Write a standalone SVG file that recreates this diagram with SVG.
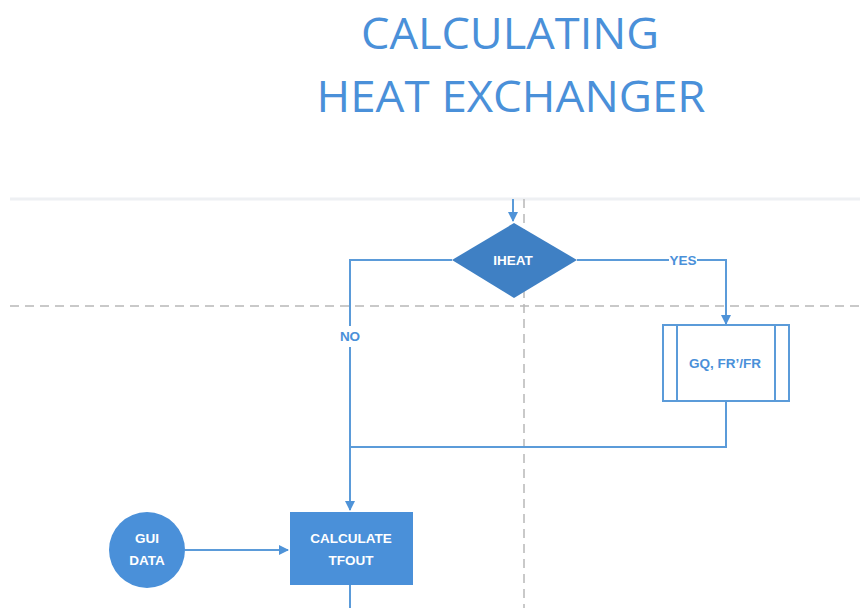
<svg xmlns="http://www.w3.org/2000/svg" width="860" height="608" viewBox="0 0 860 608">
<defs>
<marker id="ah" viewBox="0 0 10 10" refX="9" refY="5" markerWidth="10" markerHeight="10" markerUnits="userSpaceOnUse" orient="auto">
<path d="M0,0 L10,5 L0,10 z" fill="#4f93d8"/>
</marker>
<style>
.title{font-family:"Open Sans","Liberation Sans",sans-serif;font-size:44px;fill:#4a90d9;text-anchor:middle}
.conn{fill:none;stroke:#5b9bd9;stroke-width:2}
.guide{fill:none;stroke:#b8b8b8;stroke-width:1.5;stroke-dasharray:9 6}
.lbl{font-family:"Liberation Sans",Arial,sans-serif;font-size:13.5px;font-weight:bold;text-anchor:middle}
.w{fill:#ffffff}
.b{fill:#4a90d9}
</style>
</defs>
<rect width="860" height="608" fill="#ffffff"/>
<text class="title" x="510" y="49" textLength="298" lengthAdjust="spacingAndGlyphs">CALCULATING</text>
<text class="title" x="511" y="112" textLength="389" lengthAdjust="spacingAndGlyphs">HEAT EXCHANGER</text>
<g id="guides">
<line x1="10" y1="199" x2="860" y2="199" stroke="#eef0f3" stroke-width="3"/>
<line class="guide" x1="524" y1="199" x2="524" y2="608"/>
<line class="guide" x1="10" y1="306" x2="860" y2="306"/>
</g>
<g id="connectors">
<path class="conn" d="M513,199 V221" marker-end="url(#ah)"/>
<path class="conn" d="M452,260 H350 V326"/>
<path class="conn" d="M350,347 V510" marker-end="url(#ah)"/>
<path class="conn" d="M577,260 H669"/>
<path class="conn" d="M697,260 H726 V324" marker-end="url(#ah)"/>
<path class="conn" d="M726,401 V447 H350"/>
<path class="conn" d="M185,550 H288" marker-end="url(#ah)"/>
<path class="conn" d="M350,585 V608"/>
<text class="lbl b" x="350" y="341">NO</text>
<text class="lbl b" x="683" y="265">YES</text>
</g>
<g id="iheat">
<polygon points="514,223 577,260 514,298 452,260" fill="#3f80c4"/>
<text class="lbl w" x="513" y="265">IHEAT</text>
</g>
<g id="gq">
<rect x="663" y="325" width="126" height="76" fill="#ffffff" stroke="#5b9bd9" stroke-width="2"/>
<line x1="677" y1="325" x2="677" y2="401" stroke="#5b9bd9" stroke-width="2"/>
<line x1="775" y1="325" x2="775" y2="401" stroke="#5b9bd9" stroke-width="2"/>
<text class="lbl b" x="725" y="368">GQ, FR’/FR</text>
</g>
<g id="calc">
<rect x="290" y="512" width="123" height="73" fill="#4a90d9"/>
<text class="lbl w" x="351" y="543">CALCULATE</text>
<text class="lbl w" x="351" y="565">TFOUT</text>
</g>
<g id="gui">
<circle cx="147" cy="550" r="38" fill="#4a90d9"/>
<text class="lbl w" x="147" y="543">GUI</text>
<text class="lbl w" x="147" y="565">DATA</text>
</g>
</svg>
